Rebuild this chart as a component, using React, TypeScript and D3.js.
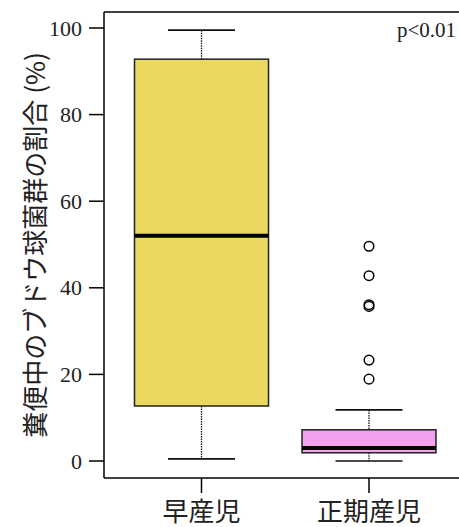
import React from "react";
import * as d3 from "d3";

const categories = ["早産児", "正期産児"];
const lowerWhisker = [0.5, 0];
const q1 = [12.7, 1.9];
const median = [52, 3.0];
const q3 = [92.8, 7.2];
const upperWhisker = [99.5, 11.8];
const outliers: number[][] = [[], [49.6, 42.8, 36.1, 35.7, 23.3, 18.9]];
const fills = ["#EAD95E", "#F0A2EE"];
const yTicks = [0, 20, 40, 60, 80, 100];

const W = 459;
const H = 527;
const plotLeft = 104;
const plotTop = 12;
const plotBottom = 478;
const plotRight = 470;

export default function App() {
  const y = d3.scaleLinear().domain([0, 100]).range([461, 28]);
  const x = d3.scalePoint<string>().domain(categories).range([201.5, 369]).padding(0);
  const bw = 134;
  const cx = (c: string) => x(c) as number;

  return (
    <svg width={W} height={H} style={{ position: "absolute", left: 0, top: 0 }}>
      <rect x={0} y={0} width={W} height={H} fill="#fff" />
      {categories.map((c, i) => {
        const m = cx(c);
        return (
          <g key={c}>
            <line x1={m} x2={m} y1={y(upperWhisker[i])} y2={y(q3[i])} stroke="#111" strokeWidth={1.3} strokeDasharray="1.5,1" />
            <line x1={m} x2={m} y1={y(q1[i])} y2={y(lowerWhisker[i])} stroke="#111" strokeWidth={1.3} strokeDasharray="1.5,1" />
            <line x1={m - bw / 4} x2={m + bw / 4} y1={y(upperWhisker[i])} y2={y(upperWhisker[i])} stroke="#111" strokeWidth={1.6} />
            <line x1={m - bw / 4} x2={m + bw / 4} y1={y(lowerWhisker[i])} y2={y(lowerWhisker[i])} stroke="#111" strokeWidth={1.6} />
            <rect x={m - bw / 2} y={y(q3[i])} width={bw} height={y(q1[i]) - y(q3[i])} fill={fills[i]} stroke="#222" strokeWidth={1.5} />
            <line x1={m - bw / 2} x2={m + bw / 2} y1={y(median[i])} y2={y(median[i])} stroke="#000" strokeWidth={4} />
            {outliers[i].map((v, j) => (
              <circle key={j} cx={m} cy={y(v)} r={4.8} fill="none" stroke="#000" strokeWidth={1.5} />
            ))}
          </g>
        );
      })}
      <line x1={plotLeft} x2={plotRight} y1={plotTop} y2={plotTop} stroke="#000" strokeWidth={1.5} />
      <line x1={plotLeft} x2={plotRight} y1={plotBottom} y2={plotBottom} stroke="#000" strokeWidth={1.5} />
      <line x1={plotLeft} x2={plotLeft} y1={plotTop} y2={plotBottom} stroke="#000" strokeWidth={1.5} />
      {yTicks.map((t) => (
        <g key={t}>
          <line x1={plotLeft - 15} x2={plotLeft} y1={y(t)} y2={y(t)} stroke="#000" strokeWidth={1.5} />
          <text x={82} y={y(t)} textAnchor="end" dominantBaseline="central" fontFamily="'Liberation Serif', serif" fontSize={22} fill="#222">
            {t}
          </text>
        </g>
      ))}
      {categories.map((c) => (
        <g key={c}>
          <line x1={cx(c)} x2={cx(c)} y1={plotBottom} y2={493} stroke="#000" strokeWidth={1.5} />
          <text x={cx(c)} y={509} textAnchor="middle" dominantBaseline="central" fontFamily="'Noto Sans CJK JP', sans-serif" fontSize={26} fill="#222">
            {c}
          </text>
        </g>
      ))}
      <text transform={`translate(33,245) rotate(-90)`} textAnchor="middle" dominantBaseline="central" fontFamily="'Noto Sans CJK JP', sans-serif" fontSize={26} fill="#222">
        糞便中のブドウ球菌群の割合 (%)
      </text>
      <text x={456} y={37} textAnchor="end" fontFamily="'Liberation Serif', serif" fontSize={21} fill="#222">
        p&lt;0.01
      </text>
    </svg>
  );
}
